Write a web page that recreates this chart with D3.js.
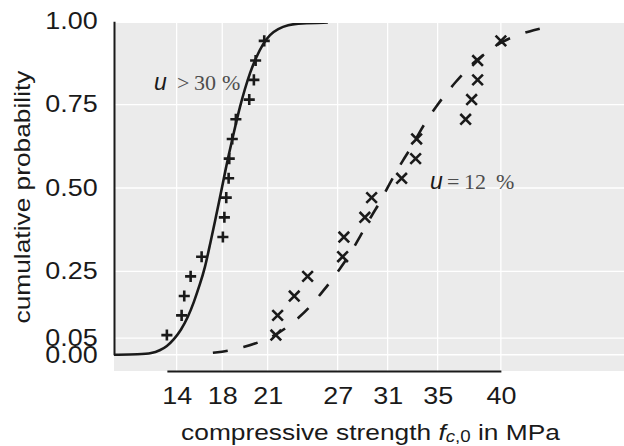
<!DOCTYPE html>
<html>
<head>
<meta charset="utf-8">
<script src="https://cdn.jsdelivr.net/npm/d3@7"></script>
<style>
  body { margin: 0; background: #fff; }
  svg { display: block; }
</style>
</head>
<body>
<div id="chart"></div>
<script>
// plotting positions (cumulative probability) shared by both samples
var probs = [0.059, 0.118, 0.176, 0.235, 0.294, 0.353, 0.412, 0.471,
             0.529, 0.588, 0.647, 0.706, 0.765, 0.824, 0.882, 0.941];

// compressive strength, MPa, sorted
var strengthWet = [13.34, 14.52, 14.73, 15.24, 16.12, 17.82, 17.94, 18.09,
                   18.28, 18.33, 18.57, 18.86, 19.93, 20.30, 20.44, 21.13];  // u > 30 %
var strengthDry = [22.06, 22.20, 23.53, 24.60, 27.40, 27.50, 29.18, 29.72,
                   32.12, 33.24, 33.32, 37.24, 37.72, 38.20, 38.20, 40.06]; // u = 12 %

// fitted distribution curves
var fitWetX = [9.10, 11.18, 12.14, 12.78, 13.34, 13.90, 14.46, 15.02, 15.50, 15.98,
               16.38, 16.78, 17.18, 17.66, 18.06, 18.38, 18.78, 19.18, 19.58, 19.98,
               20.46, 21.02, 21.58, 22.22, 23.02, 23.98, 26.22];
var fitWetY = [0.000, 0.001, 0.004, 0.013, 0.025, 0.046, 0.073, 0.112, 0.157, 0.211,
               0.259, 0.329, 0.398, 0.485, 0.560, 0.614, 0.680, 0.743, 0.797, 0.845,
               0.890, 0.932, 0.960, 0.977, 0.989, 0.994, 0.996];
var fitDryX = [17.02, 18.22, 19.50, 20.62, 21.74, 22.86, 23.98, 24.78, 25.66, 26.38,
               27.18, 27.82, 28.54, 29.10, 29.82, 30.38, 31.02, 31.58, 32.22, 32.94,
               33.50, 34.14, 35.02, 35.58, 36.46, 37.26, 37.82, 39.18, 40.14, 41.42,
               42.70, 43.82];
var fitDryY = [0.006, 0.011, 0.023, 0.036, 0.053, 0.079, 0.114, 0.143, 0.183, 0.216,
               0.258, 0.291, 0.338, 0.375, 0.424, 0.456, 0.503, 0.541, 0.583, 0.624,
               0.664, 0.704, 0.751, 0.779, 0.819, 0.851, 0.875, 0.914, 0.939, 0.959,
               0.974, 0.983];

var xTicks = [14.12, 17.77, 21.4, 27, 31, 35, 40.06];
var xTickLabels = ['14', '18', '21', '27', '31', '35', '40'];
var yTicks = [0, 0.05, 0.25, 0.5, 0.75, 1];
var yTickLabels = ['0.00', '0.05', '0.25', '0.50', '0.75', '1.00'];

var W = 624, H = 446;
var margin = { top: 23, right: 0, bottom: 75, left: 114 };
var INK = '#1a1a1a';
var STRETCH = 1.17;   // the original type is a bit wider than Liberation Sans

var svg = d3.select('#chart').append('svg')
  .attr('width', W)
  .attr('height', H);

// the panel is cut just below 1.00, as in the figure
var x = d3.scaleLinear().domain([9.11, 49.91]).range([margin.left, W - margin.right]);
var y = d3.scaleLinear().domain([-0.0487, 0.9946]).range([H - margin.bottom, margin.top]);

svg.append('clipPath')
  .attr('id', 'panel-clip')
  .append('rect')
  .attr('x', margin.left)
  .attr('y', margin.top)
  .attr('width', W - margin.left - margin.right)
  .attr('height', H - margin.top - margin.bottom);

// panel
svg.append('rect')
  .attr('x', margin.left)
  .attr('y', margin.top)
  .attr('width', W - margin.left - margin.right)
  .attr('height', H - margin.top - margin.bottom)
  .attr('fill', '#ebebeb');

var panel = svg.append('g').attr('clip-path', 'url(#panel-clip)');

panel.append('g').selectAll('line')
  .data(xTicks)
  .enter()
  .append('line')
  .attr('x1', function (d) { return x(d); })
  .attr('x2', function (d) { return x(d); })
  .attr('y1', margin.top)
  .attr('y2', H - margin.bottom)
  .attr('stroke', '#fff')
  .attr('stroke-width', 1.3);

panel.append('g').selectAll('line')
  .data(yTicks)
  .enter()
  .append('line')
  .attr('x1', margin.left)
  .attr('x2', W - margin.right)
  .attr('y1', function (d) { return y(d); })
  .attr('y2', function (d) { return y(d); })
  .attr('stroke', '#fff')
  .attr('stroke-width', 1.3);

// fitted curves
var line = d3.line()
  .x(function (d) { return x(d[0]); })
  .y(function (d) { return y(d[1]); })
  .curve(d3.curveBasis);

panel.append('path')
  .datum(d3.zip(fitWetX, fitWetY))
  .attr('d', line)
  .attr('fill', 'none')
  .attr('stroke', INK)
  .attr('stroke-width', 2.6);

panel.append('path')
  .datum(d3.zip(fitDryX, fitDryY))
  .attr('d', line)
  .attr('fill', 'none')
  .attr('stroke', INK)
  .attr('stroke-width', 2.6)
  .attr('stroke-dasharray', '15,16');

// sample points
var plus = d3.symbol().type(d3.symbolPlus).size(42);
var times = d3.symbol().type(d3.symbolTimes).size(75);

panel.append('g').selectAll('path')
  .data(d3.zip(strengthWet, probs))
  .enter()
  .append('path')
  .attr('d', plus)
  .attr('transform', function (d) { return 'translate(' + x(d[0]) + ',' + y(d[1]) + ')'; })
  .attr('fill', 'none')
  .attr('stroke', INK)
  .attr('stroke-width', 2.6);

panel.append('g').selectAll('path')
  .data(d3.zip(strengthDry, probs))
  .enter()
  .append('path')
  .attr('d', times)
  .attr('transform', function (d) { return 'translate(' + x(d[0]) + ',' + y(d[1]) + ')'; })
  .attr('fill', 'none')
  .attr('stroke', INK)
  .attr('stroke-width', 2.6);

// curve labels
function moisture(vx, vy, rel, parts) {
  var t = svg.append('text')
    .attr('transform', 'translate(' + x(vx) + ',' + y(vy) + ')');
  t.append('tspan')
    .attr('x', 0)
    .attr('font-family', 'Liberation Sans, Arial, sans-serif')
    .attr('font-style', 'italic')
    .attr('font-size', 23)
    .attr('fill', INK)
    .text('u');
  parts.forEach(function (p, i) {
    t.append('tspan')
      .attr('x', rel[i])
      .attr('font-family', 'Liberation Serif, Times New Roman, serif')
      .attr('font-size', 22)
      .attr('fill', '#4d4d4d')
      .text(p);
  });
}
moisture(12.31, 0.794, [23, 40, 68], ['>', '30', '%']);
moisture(34.39, 0.496, [17, 34, 66], ['=', '12', '%']);

// range-frame axes
var yFrame = y.copy().domain([0, 1]).range([y(0), y(1)]);
var xFrame = x.copy()
  .domain([strengthWet[0], strengthDry[strengthDry.length - 1]])
  .range([x(strengthWet[0]), x(strengthDry[strengthDry.length - 1])]);

var yAxis = svg.append('g')
  .attr('transform', 'translate(' + margin.left + ',0)')
  .call(d3.axisLeft(yFrame)
    .tickValues(yTicks)
    .tickFormat(function (d, i) { return yTickLabels[i]; })
    .tickSize(0)
    .tickSizeOuter(0)
    .tickPadding(14));

var xAxis = svg.append('g')
  .attr('transform', 'translate(0,' + (H - margin.bottom) + ')')
  .call(d3.axisBottom(xFrame)
    .tickValues(xTicks)
    .tickFormat(function (d, i) { return xTickLabels[i]; })
    .tickSize(0)
    .tickSizeOuter(0)
    .tickPadding(17));

[yAxis, xAxis].forEach(function (g) {
  g.attr('color', INK)
    .attr('font-family', 'Liberation Sans, Arial, sans-serif')
    .attr('font-size', 23);
  g.select('.domain').attr('stroke-width', 2);
  g.selectAll('.tick text')
    .attr('fill', INK)
    .attr('transform', 'scale(' + STRETCH + ',1)');
});

// axis titles
svg.append('text')
  .attr('transform', 'translate(29.5,' + (margin.top + (H - margin.top - margin.bottom) / 2) + ') rotate(-90) scale(' + STRETCH + ',1)')
  .attr('text-anchor', 'middle')
  .attr('font-family', 'Liberation Sans, Arial, sans-serif')
  .attr('font-size', 22.5)
  .attr('fill', INK)
  .text('cumulative probability');

var xt = svg.append('text')
  .attr('transform', 'translate(' + ((margin.left + W - margin.right) / 2 + 1.5) + ',440) scale(' + STRETCH + ',1)')
  .attr('text-anchor', 'middle')
  .attr('font-family', 'Liberation Sans, Arial, sans-serif')
  .attr('font-size', 22.5)
  .attr('fill', INK);
xt.append('tspan').text('compressive strength ');
xt.append('tspan').attr('font-style', 'italic').text('f');
xt.append('tspan').attr('font-style', 'italic').attr('font-size', 16).attr('dy', 2).text('c');
xt.append('tspan').attr('font-size', 16).text(',0');
xt.append('tspan').attr('dy', -2).text(' in MPa');
</script>
</body>
</html>
